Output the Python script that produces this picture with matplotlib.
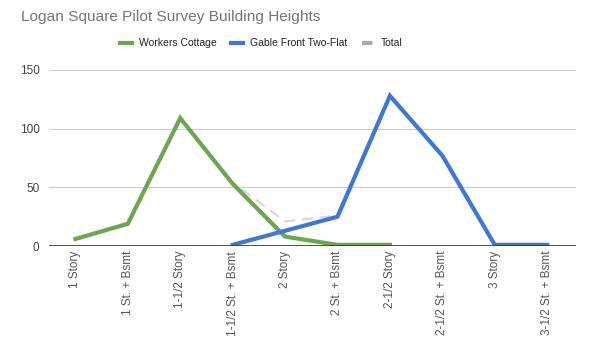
import matplotlib.pyplot as plt
from matplotlib.lines import Line2D
import numpy as np

categories = ['1 Story', '1 St. + Bsmt', '1-1/2 Story', '1-1/2 St. + Bsmt', '2 Story',
              '2 St. + Bsmt', '2-1/2 Story', '2-1/2 St. + Bsmt', '3 Story', '3-1/2 St. + Bsmt']
workers_cottage = [6, 19, 109, 53, 8, 1, 1, None, None, None]
gable_front = [None, None, None, 1, 13, 25, 128, 77, 1, 1]
total = [6, 19, 109, 54, 21, 26, 129, 77, 1, 1]

plt.rcParams['font.family'] = ['Liberation Sans', 'DejaVu Sans']

fig = plt.figure(figsize=(6, 3.48), dpi=100)
ax = fig.add_axes([0.082, 0.293, 0.878, 0.506])

x = np.arange(len(categories))


def to_arr(vals):
    return np.array([np.nan if v is None else v for v in vals], dtype=float)


ax.plot(x, to_arr(total), color='#d9d9d9', lw=1.6, ls=(0, (5, 3)), zorder=2)
ax.plot(x, to_arr(workers_cottage), color='#6aa84f', lw=3, zorder=3, solid_joinstyle='miter')
ax.plot(x, to_arr(gable_front), color='#3c78d8', lw=3, zorder=4, solid_joinstyle='miter')

ax.set_xlim(-0.5, 9.55)
ax.set_ylim(0, 150)
ax.set_yticks([0, 50, 100, 150])
ax.yaxis.grid(True, color='#cccccc', lw=0.8)
ax.set_axisbelow(True)
ax.axhline(0, color='#333333', lw=1.2, zorder=5)
for s in ax.spines.values():
    s.set_visible(False)
ax.tick_params(axis='both', length=0, labelsize=8.5, colors='#444444')
ax.tick_params(axis='y', pad=7)
ax.set_xticks(x)
ax.set_xticklabels(categories, rotation=90, color='#555555')

fig.text(0.035, 0.95, 'Logan Square Pilot Survey Building Heights', fontsize=11.1,
         color='#757575', va='center', ha='left')

handles = [Line2D([], [], color='#6aa84f', lw=3),
           Line2D([], [], color='#3c78d8', lw=3),
           Line2D([], [], color='#aaaaaa', lw=3, ls=(0, (2.5, 2.5)))]
labels = ['Workers Cottage', 'Gable Front Two-Flat', 'Total']
fig.legend(handles, labels,
           loc='center', bbox_to_anchor=(0.435, 0.876), ncol=3, frameon=False,
           fontsize=7.5, handlelength=1.2, handletextpad=0.6, columnspacing=1.4,
           labelcolor='#222222')

fig.savefig('out.png', dpi=100)
